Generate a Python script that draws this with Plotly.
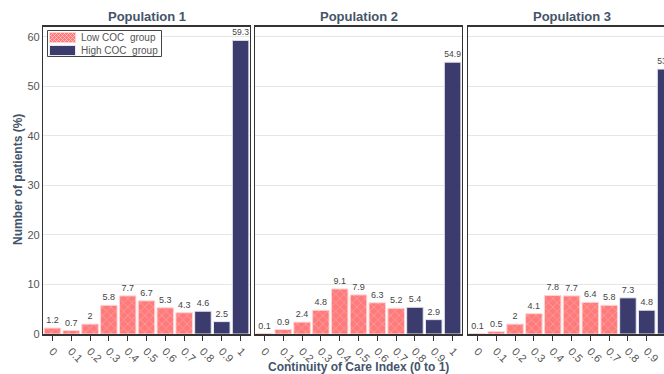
import plotly.graph_objects as go

categories = ["0", "0.1", "0.2", "0.3", "0.4", "0.5", "0.6", "0.7", "0.8", "0.9", "1"]
low_cats = categories[:8]
high_cats = categories[8:]

pop1 = [1.2, 0.7, 2, 5.8, 7.7, 6.7, 5.3, 4.3, 4.6, 2.5, 59.3]
pop2 = [0.1, 0.9, 2.4, 4.8, 9.1, 7.9, 6.3, 5.2, 5.4, 2.9, 54.9]
pop3 = [0.1, 0.5, 2, 4.1, 7.8, 7.7, 6.4, 5.8, 7.3, 4.8, 53.5]
populations = [pop1, pop2, pop3]
panel_titles = ["Population 1", "Population 2", "Population 3"]
legend_names = ["Low COC  group", "High COC  group"]
y_ticks = [0, 10, 20, 30, 40, 50, 60]

LOW = "#FF7B7B"
LOW_PAT = "#FFC4C4"
HIGH = "#3B3B6D"
SLATE = "#44546A"
FONT = "Liberation Sans, Arial, sans-serif"

fig = go.Figure()

W, H, L, T, B = 664, 374, 43, 27, 40
pw = W - L
ph = H - T - B
domains = [[0, 207 / pw], [212 / pw, 419 / pw], [425 / pw, 1.0]]
xranges = [[-0.5, 10.5], [-0.5, 10.5], [-0.5, -0.5 + 196 / (207 / 11)]]


def px(x):
    return (x - L) / pw


def py(y):
    return (T + ph - y) / ph


for i, vals in enumerate(populations):
    xa = "x" if i == 0 else f"x{i+1}"
    ya = "y" if i == 0 else f"y{i+1}"
    fig.add_trace(go.Bar(
        x=low_cats, y=vals[:8], xaxis=xa, yaxis=ya,
        name=legend_names[0], showlegend=False,
        marker=dict(color=LOW, line=dict(color="#FFD6D6", width=1),
                    pattern=dict(shape="x", fgcolor=LOW_PAT, size=6, solidity=0.25)),
        text=[f"{v:g}" for v in vals[:8]], textposition="outside",
        textfont=dict(size=9, color="#444"), width=0.88, cliponaxis=True,
    ))
    fig.add_trace(go.Bar(
        x=high_cats, y=vals[8:], xaxis=xa, yaxis=ya,
        name=legend_names[1], showlegend=False,
        marker=dict(color=HIGH, line=dict(color="#E8E8F0", width=1)),
        text=[f"{v:g}" for v in vals[8:]], textposition="outside",
        textfont=dict(size=9, color="#444"), width=0.88, cliponaxis=True,
    ))

layout = dict(
    width=W, height=H,
    margin=dict(l=L, r=0, t=T, b=B, autoexpand=False),
    plot_bgcolor="white", paper_bgcolor="white",
    barmode="overlay", showlegend=False,
    font=dict(family=FONT, color="#555"),
    annotations=[], shapes=[],
)

for i in range(3):
    sfx = "" if i == 0 else str(i + 1)
    layout["xaxis" + sfx] = dict(
        domain=domains[i], anchor="y" + sfx, type="category",
        categoryorder="array", categoryarray=categories,
        range=xranges[i], tickangle=45, ticks="outside", ticklen=5,
        tickcolor="#333", tickfont=dict(size=11, color="#555"),
        showline=True, linecolor="#333", linewidth=1.5, mirror=True,
        showgrid=False, automargin=False,
    )
    layout["yaxis" + sfx] = dict(
        domain=[0, 1], anchor="x" + sfx, range=[0, 62],
        tickvals=y_ticks, showticklabels=(i == 0),
        tickfont=dict(size=11, color="#555"),
        showgrid=True, gridcolor="#E6E6E6", zeroline=False,
        showline=True, linecolor="#333", linewidth=1.2,
        mirror=(i < 2), ticks="", automargin=False,
    )
    xc = (domains[i][0] + (domains[i][0] + 207 / pw)) / 2
    layout["annotations"].append(dict(
        text=f"<b>{panel_titles[i]}</b>", x=xc, y=1.0, xref="paper", yref="paper",
        xanchor="center", yanchor="bottom", yshift=1, showarrow=False,
        font=dict(size=13, color=SLATE, family=FONT),
    ))

# axis titles
layout["annotations"].append(dict(
    text="<b>Continuity of Care Index (0 to 1)</b>",
    x=px(358.5), y=py(367), xref="paper", yref="paper",
    xanchor="center", yanchor="middle", showarrow=False,
    font=dict(size=12, color=SLATE, family=FONT),
))
layout["annotations"].append(dict(
    text="<b>Number of patients (%)</b>", textangle=-90,
    x=px(18), y=py(180), xref="paper", yref="paper",
    xanchor="center", yanchor="middle", showarrow=False,
    font=dict(size=12, color=SLATE, family=FONT),
))

# compact legend box (legend decoration, not data)
layout["shapes"].append(dict(
    type="rect", xref="paper", yref="paper", layer="above",
    x0=px(47.5), x1=px(161.5), y0=py(30.5), y1=py(56.5),
    fillcolor="white", line=dict(color="#444", width=1),
))
sx0, sx1 = 49.5, 75.5
rows = [(32.5, 42.5), (45.5, 55.5)]
colors = [LOW, HIGH]
for (y0, y1), c, name in zip(rows, colors, legend_names):
    layout["shapes"].append(dict(
        type="rect", xref="paper", yref="paper", layer="above",
        x0=px(sx0), x1=px(sx1), y0=py(y0), y1=py(y1),
        fillcolor=c, line=dict(color="#FFD6D6" if c == LOW else "#E8E8F0", width=1),
    ))
    layout["annotations"].append(dict(
        text=name, x=px(78.5), y=py((y0 + y1) / 2), xref="paper", yref="paper",
        xanchor="left", yanchor="middle", showarrow=False,
        font=dict(size=10, color="#555", family=FONT),
    ))

# crosshatch on the low-group legend swatch
y0, y1 = rows[0]
segs = []
step = 4
xx = sx0 - (y1 - y0)
while xx < sx1:
    segs.append((xx, y1, xx + (y1 - y0), y0))
    segs.append((xx, y0, xx + (y1 - y0), y1))
    xx += step


def clip(a0, b0, a1, b1):
    t0, t1 = 0.0, 1.0
    dx, dy = a1 - a0, b1 - b0
    for p, q in ((-dx, a0 - sx0), (dx, sx1 - a0), (-dy, b0 - y0), (dy, y1 - b0)):
        if p == 0:
            if q < 0:
                return None
            continue
        r = q / p
        if p < 0:
            t0 = max(t0, r)
        else:
            t1 = min(t1, r)
    if t0 >= t1:
        return None
    return (a0 + t0 * dx, b0 + t0 * dy, a0 + t1 * dx, b0 + t1 * dy)


path = ""
for s in segs:
    c = clip(*s)
    if c:
        path += f"M{px(c[0])},{py(c[1])} L{px(c[2])},{py(c[3])} "
layout["shapes"].append(dict(
    type="path", xref="paper", yref="paper", layer="above", path=path.strip(),
    line=dict(color=LOW_PAT, width=0.8),
))

fig.update_layout(**layout)
fig.write_html(
    "out.html",
    config={"displayModeBar": False},
    post_script="document.body.style.margin='0';document.body.style.padding='0';"
                "document.body.style.overflow='hidden';",
)
